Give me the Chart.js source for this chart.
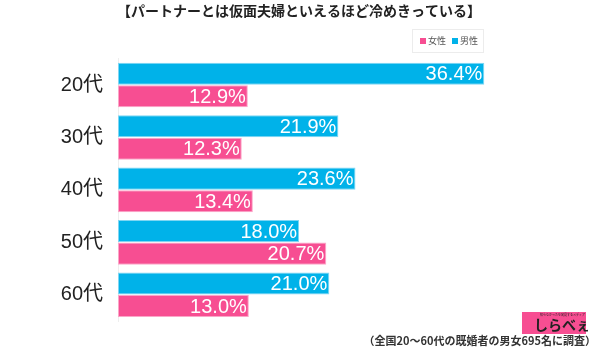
<!DOCTYPE html>
<html><head><meta charset="utf-8">
<script src="https://cdn.jsdelivr.net/npm/chart.js@4/dist/chart.umd.min.js"></script>
<style>html,body{margin:0;padding:0;background:#fff}#wrap{width:600px;height:352px;position:relative}</style>
</head><body><div id="wrap"><canvas id="c" width="600" height="352"></canvas></div>
<script>
const categories = ["20代", "30代", "40代", "50代", "60代"];
const male = [36.4, 21.9, 23.6, 18.0, 21.0];
const female = [12.9, 12.3, 13.4, 20.7, 13.0];
const seriesNames = ["男性", "女性"];
const titleText = "【パートナーとは仮面夫婦といえるほど冷めきっている】";
const captionText = "（全国20〜60代の既婚者の男女695名に調査）";
const logoText = "しらべぇ";

const FONT = "'Liberation Sans', 'Noto Sans CJK JP', sans-serif";
const BLUE = "#00b2e9";
const PINK = "#f74e92";

const valueLabels = {
  id: "valueLabels",
  afterDatasetsDraw(chart) {
    const ctx = chart.ctx;
    ctx.save();
    ctx.fillStyle = "#fff";
    ctx.font = "20px " + FONT;
    ctx.textAlign = "right";
    ctx.textBaseline = "middle";
    chart.data.datasets.forEach((ds, i) => {
      chart.getDatasetMeta(i).data.forEach((bar, j) => {
        ctx.fillText(ds.data[j].toFixed(1) + "%", bar.x - 2, bar.y + 1);
      });
    });
    ctx.restore();
  }
};

const extras = {
  id: "extras",
  afterDraw(chart) {
    const ctx = chart.ctx;
    ctx.save();
    // legend (女性, 男性)
    ctx.strokeStyle = "#ececec";
    ctx.lineWidth = 1;
    ctx.strokeRect(412.5, 29.5, 71, 23);
    const items = [[seriesNames[1], PINK, 420], [seriesNames[0], BLUE, 452]];
    ctx.font = "9px 'Noto Sans CJK JP'";
    ctx.textAlign = "left";
    ctx.textBaseline = "middle";
    items.forEach(([name, col, x]) => {
      ctx.fillStyle = col;
      ctx.fillRect(x, 38, 6, 6);
      ctx.fillStyle = "#555";
      ctx.fillText(name, x + 8, 41);
    });
    // logo
    ctx.fillStyle = PINK;
    ctx.fillRect(522, 312, 64, 22);
    ctx.fillStyle = "#222";
    ctx.font = "bold 14px 'Noto Sans CJK JP'";
    ctx.fillText(logoText, 534, 325);
    ctx.font = "3px 'Noto Sans CJK JP'";
    ctx.fillText("知らなかったを発見するメディア", 540, 315);
    // caption
    ctx.fillStyle = "#333";
    ctx.font = "bold 11px 'Noto Sans CJK JP'";
    ctx.textAlign = "right";
    ctx.fillText(captionText, 596, 341);
    ctx.restore();
  }
};

new Chart(document.getElementById("c"), {
  type: "bar",
  data: {
    labels: categories,
    datasets: [
      { label: seriesNames[0], data: male, backgroundColor: BLUE, borderColor: "#7fd6f3", borderWidth: 1, borderSkipped: false },
      { label: seriesNames[1], data: female, backgroundColor: PINK, borderColor: "#fba6c8", borderWidth: 1, borderSkipped: false }
    ]
  },
  options: {
    indexAxis: "y",
    responsive: false,
    animation: false,
    events: [],
    layout: { padding: { left: 0, right: 2, top: 0, bottom: 31 } },
    datasets: { bar: { categoryPercentage: 0.86, barPercentage: 0.98 } },
    scales: {
      x: { min: 0, max: 47.7, display: false },
      y: {
        grid: { display: false, drawTicks: false },
        border: { display: true, color: "#eeeeee" },
        ticks: { color: "#222", font: { size: 20, family: FONT }, padding: 15 },
        afterFit(scale) { scale.width = 118; }
      }
    },
    plugins: {
      title: { display: true, text: titleText, color: "#222", font: { size: 14, weight: "bold", family: "'Noto Sans CJK JP'" }, padding: { top: 2, bottom: 40 } },
      legend: { display: false },
      tooltip: { enabled: false }
    }
  },
  plugins: [valueLabels, extras]
});
</script></body></html>
